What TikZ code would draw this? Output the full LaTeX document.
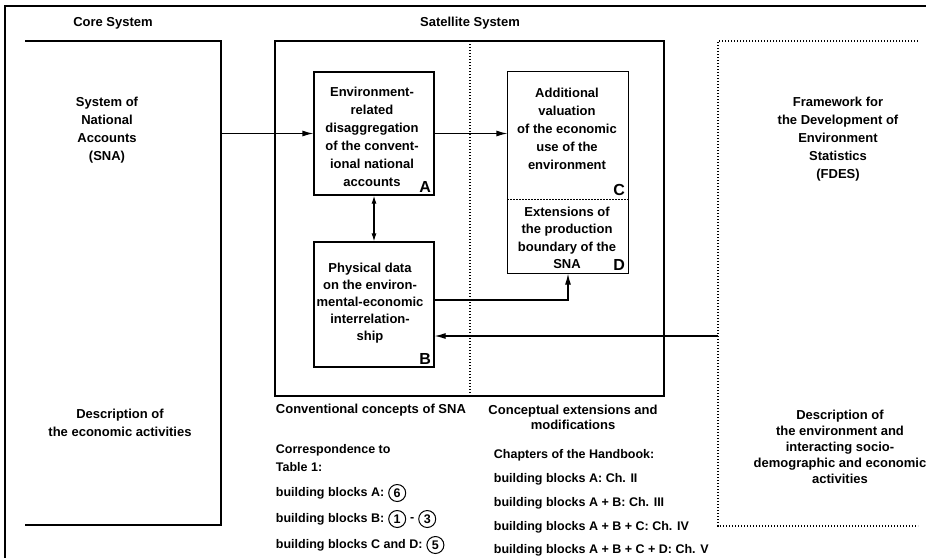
\documentclass[tikz,border=0pt]{standalone}
\usepackage{fontspec}
\setmainfont{Liberation Sans}
\usetikzlibrary{arrows.meta,positioning}
\tikzset{
  blk/.style={minimum width=120pt, inner sep=0pt},
  txt/.style={align=center},
  lbl/.style={font=\bfseries\fontsize{16}{16}\selectfont, anchor=south east, inner sep=3pt},
  cnum/.style={draw, circle, inner sep=0pt, minimum size=17pt, line width=1pt},
  arr/.style={-{Latex[length=11pt,width=6pt]}},
  dotline/.style={dash pattern=on 1.4pt off 1.6pt}
}
\begin{document}
\begin{tikzpicture}[x=1pt,y=-1pt,line width=1.2pt,
    every node/.append style={font=\bfseries\fontsize{13}{18}\selectfont}]
	\useasboundingbox (0,0) rectangle (926,558);
	\draw (5,558) -- (5,6) -- (926,6);
	% core system
	\draw (25,41) -- (221,41) -- (221,525) -- (25,525);
	\node at (113,23) {Core System};
	\node[txt] (sna) at (107,130) {System of\\National\\Accounts\\(SNA)};
	\node[txt] (snadesc) at (120,423) {Description of\\the economic activities};
	\coordinate (snaout) at (221,133.5);
	% satellite system
	\node at (470,23) {Satellite System};
	\draw (275,41) rectangle (664,396);
	\draw[dotline] (470,41) -- (470,396);
	\node[blk, draw, minimum height=123pt] (A) at (374,133.5) {};
	\node[blk, draw, minimum height=125pt] (B) at (374,304.5) {};
	\node[blk, minimum height=127pt] (C) at (568,135.5) {};
	\node[blk, minimum height=74pt] (D) at (568,236) {};
	\draw (C.north west) rectangle (D.south east);
	\draw[dotline] (C.south west) -- (C.south east);
	\node[txt] at (372,137) {Environment-\\related\\disaggregation\\of the convent-\\ional national\\accounts};
	\node[lbl] at (A.south east) {A};
	\node[txt, font=\bfseries\fontsize{13}{17}\selectfont] at (370,303) {Physical data\\on the environ-\\mental-economic\\interrelation-\\ship};
	\node[lbl] at (B.south east) {B};
	\node[txt] at (567,129) {Additional\\valuation\\of the economic\\use of the\\environment};
	\node[lbl] at (C.south east) {C};
	\node[txt, font=\bfseries\fontsize{13}{17.5}\selectfont] at (567,238) {Extensions of\\the production\\boundary of the\\SNA};
	\node[lbl] at (D.south east) {D};
	% FDES
	\draw[dotline] (918,41) -- (718,41) -- (718,526) -- (918,526);
	\node[txt] (fdes) at (838,139) {Framework for\\the Development of\\Environment\\Statistics\\(FDES)};
	\node[txt, font=\bfseries\fontsize{13}{16}\selectfont] (fdesdesc) at (840,447) {Description of\\the environment and\\interacting socio-\\demographic and economic\\activities};
	\coordinate (fdesout) at (718,336);
	% connectors
	\draw[arr] (snaout) -- (A.west);
	\draw[arr] (A.east) -- (A.east -| C.west);
	\draw[{Latex[length=8pt,width=5pt]}-{Latex[length=8pt,width=5pt]}] (A.south) -- (B.north);
	\draw[arr] (B.east |- 0,300) -| (D.south);
	\draw[arr] (fdesout) -- (fdesout -| B.east);
	% captions
	\node[anchor=west] at (272,410) {Conventional concepts of SNA};
	\node[txt, font=\bfseries\fontsize{13}{15}\selectfont] at (573,417) {Conceptual extensions and\\modifications};
	\node[anchor=west, align=left, font=\bfseries\fontsize{12.5}{18}\selectfont] at (272,458) {Correspondence to\\Table 1:};
	\begin{scope}[every node/.append style={font=\bfseries\fontsize{12.5}{15}\selectfont}]
	\node[anchor=west] (bbA) at (272,493) {building blocks A:};
	\node[cnum, right=0pt of bbA] (n6) {6};
	\node[anchor=west] (bbB) at (272,519) {building blocks B:};
	\node[cnum, right=0pt of bbB] (n1) {1};
	\node[right=0pt of n1] (dash) {-};
	\node[cnum, right=0pt of dash] (n3) {3};
	\node[anchor=west] (bbCD) at (272,545) {building blocks C and D:};
	\node[cnum, right=0pt of bbCD] (n5) {5};
	\node[anchor=west] at (490,455) {Chapters of the Handbook:};
	\node[anchor=west] at (490,479) {building blocks A: Ch. II};
	\node[anchor=west] at (490,503) {building blocks A + B: Ch. III};
	\node[anchor=west] at (490,527) {building blocks A + B + C: Ch. IV};
	\node[anchor=west] at (490,550) {building blocks A + B + C + D: Ch. V};
	\end{scope}
\end{tikzpicture}
\end{document}
